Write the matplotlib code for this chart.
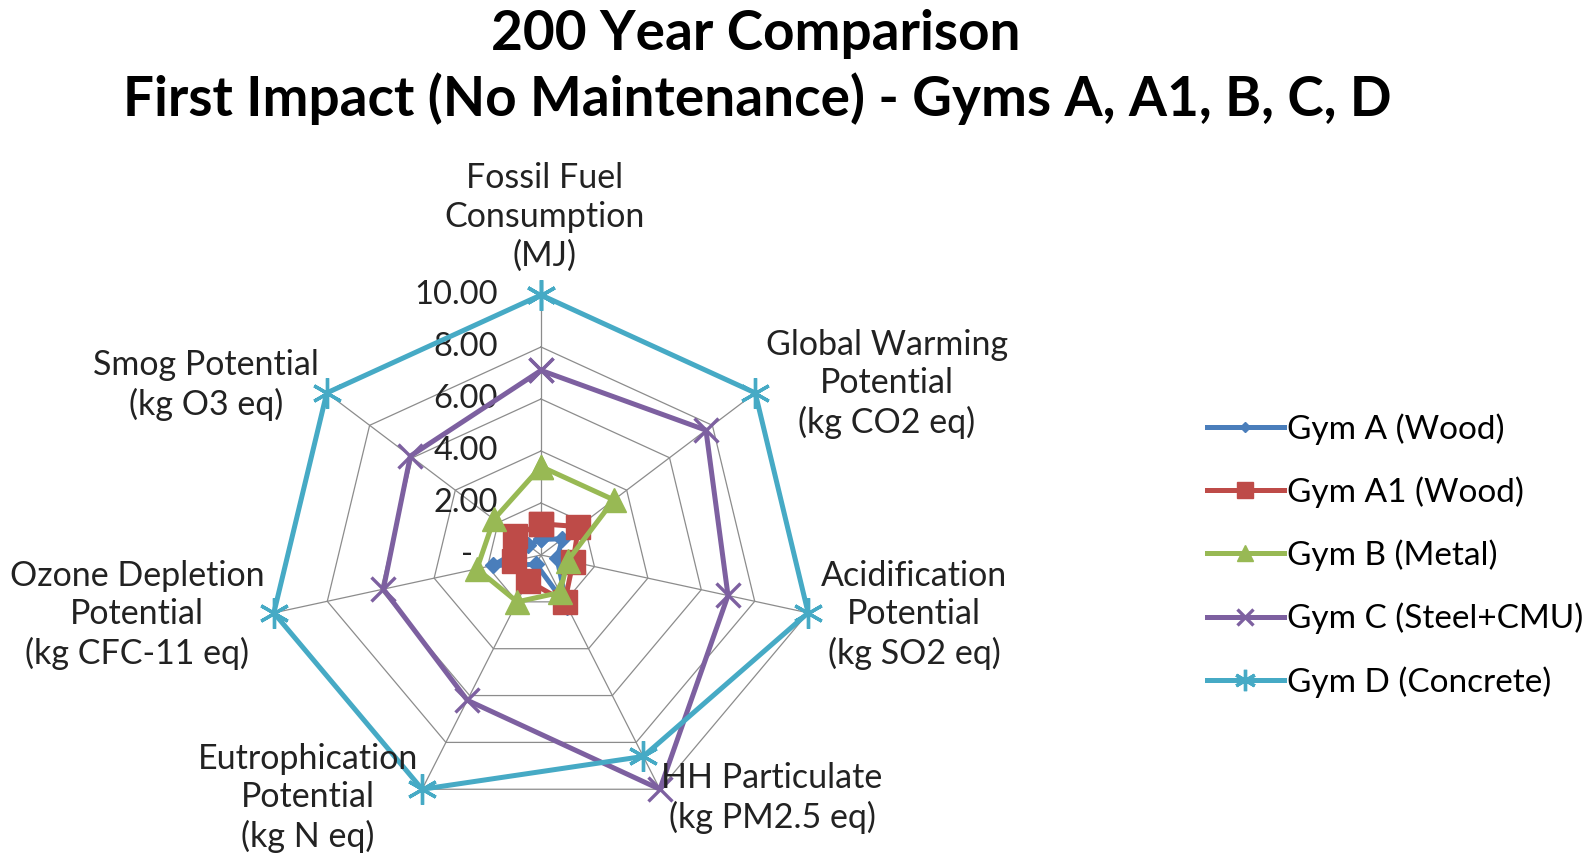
import numpy as np
import matplotlib
matplotlib.use("Agg")
import matplotlib.pyplot as plt
from matplotlib.transforms import ScaledTranslation

plt.rcParams["font.family"] = ["Lato", "DejaVu Sans"]

W, H = 1593, 859

categories = [
    "Fossil Fuel\nConsumption\n(MJ)",
    "Global Warming\nPotential\n(kg CO2 eq)",
    "Acidification\nPotential\n(kg SO2 eq)",
    "HH Particulate\n(kg PM2.5 eq)",
    "Eutrophication\nPotential\n(kg N eq)",
    "Ozone Depletion\nPotential\n(kg CFC-11 eq)",
    "Smog Potential\n(kg O3 eq)",
]

gym_a = [0.6, 1.0, 0.6, 2.2, 0.4, 1.8, 0.6]
gym_a1 = [1.2, 1.75, 1.2, 2.0, 1.1, 1.0, 1.2]
gym_b = [3.4, 3.4, 1.0, 1.6, 2.0, 2.4, 2.2]
gym_c = [7.1, 7.7, 7.0, 10.0, 6.2, 5.9, 6.1]
gym_d = [10.0, 10.0, 10.0, 8.6, 10.0, 10.0, 10.0]

series_names = ["Gym A (Wood)", "Gym A1 (Wood)", "Gym B (Metal)",
                "Gym C (Steel+CMU)", "Gym D (Concrete)"]

ring_values = [2, 4, 6, 8, 10]
ring_labels = ["2.00", "4.00", "6.00", "8.00", "10.00"]

# pixel centres of the category labels (full-size picture)
label_pos = [(545, 217), (887, 384), (914, 615), (772, 798),
             (308, 798), (137, 615), (206, 385)]

fig = plt.figure(figsize=(W / 100, H / 100), dpi=100)

# the original chart is slightly wider than tall
cx, cy, rx, ry = 541, 555, 274, 260
ax = fig.add_axes([(cx - rx) / W, (H - cy - ry) / H, 2 * rx / W, 2 * ry / H],
                  projection="polar")
ax.set_aspect("auto")
ax.set_theta_offset(np.pi / 2)
ax.set_theta_direction(-1)
ax.set_ylim(0, 10)
ax.grid(False)
ax.spines["polar"].set_visible(False)
ax.set_xticks([])
ax.set_yticks([])
ax.patch.set_alpha(0)

n = len(categories)
theta = np.linspace(0, 2 * np.pi, n, endpoint=False)
theta_c = np.append(theta, theta[0])

# polygon grid
grid_col = "#8c8c8c"
for rv in ring_values:
    ax.plot(theta_c, [rv] * (n + 1), color=grid_col, lw=0.9, zorder=1, clip_on=False)
for t in theta:
    ax.plot([t, t], [0, 10], color=grid_col, lw=0.9, zorder=1, clip_on=False)

def closed(v):
    return list(v) + [v[0]]

styles = [
    dict(color="#4a7ebb", marker="D", ms=8, mfc="#4a7ebb", mec="#4a7ebb"),
    dict(color="#be4b48", marker="s", ms=17, mfc="#be4b48", mec="#be4b48"),
    dict(color="#98b954", marker="^", ms=17, mfc="#98b954", mec="#98b954"),
    dict(color="#7d60a0", marker="x", ms=17, mew=2.4, mec="#7d60a0"),
    dict(color="#46aac5", marker=(6, 2, 0), ms=22, mew=2.4, mec="#46aac5"),
]
handles = []
for vals, name, st in zip([gym_a, gym_a1, gym_b, gym_c, gym_d], series_names, styles):
    h, = ax.plot(theta_c, closed(vals), lw=3.6, label=name, zorder=3,
                 clip_on=False, **st)
    handles.append(h)

# radial value labels, left of the vertical axis
off = ScaledTranslation(-0.43, 0, fig.dpi_scale_trans)
for rv, lab in zip(ring_values, ring_labels):
    ax.text(0, rv, lab, transform=ax.transData + off, ha="right", va="center",
            fontsize=23.5, color="#222222", zorder=2)
off0 = ScaledTranslation(-0.68, 0, fig.dpi_scale_trans)
ax.text(0, 0, "-", transform=ax.transData + off0, ha="right", va="center",
        fontsize=23.5, color="#222222", zorder=2)

for lab, (px, py) in zip(categories, label_pos):
    fig.text(px / W, 1 - py / H, lab, ha="center", va="center", fontsize=24.5,
             linespacing=1.25, color="#222222")

fig.text(0.5 * (492 + 995) / 1568, 1 - 34 / H, "200 Year Comparison",
         ha="center", va="center", fontsize=39.5, fontweight="bold")
fig.text(0.5 * (128 + 1362) / 1568, 1 - 99 / H,
         "First Impact (No Maintenance) - Gyms A, A1, B, C, D",
         ha="center", va="center", fontsize=39.5, fontweight="bold")

fig.legend(handles=handles, loc="upper left", bbox_to_anchor=(1207 / W, 1 - 413 / H),
           frameon=False, fontsize=24, handlelength=2.3, handletextpad=0.1,
           labelspacing=0.95, borderpad=0, borderaxespad=0, markerscale=0.7)

fig.savefig("out.png", dpi=100, facecolor="white")
